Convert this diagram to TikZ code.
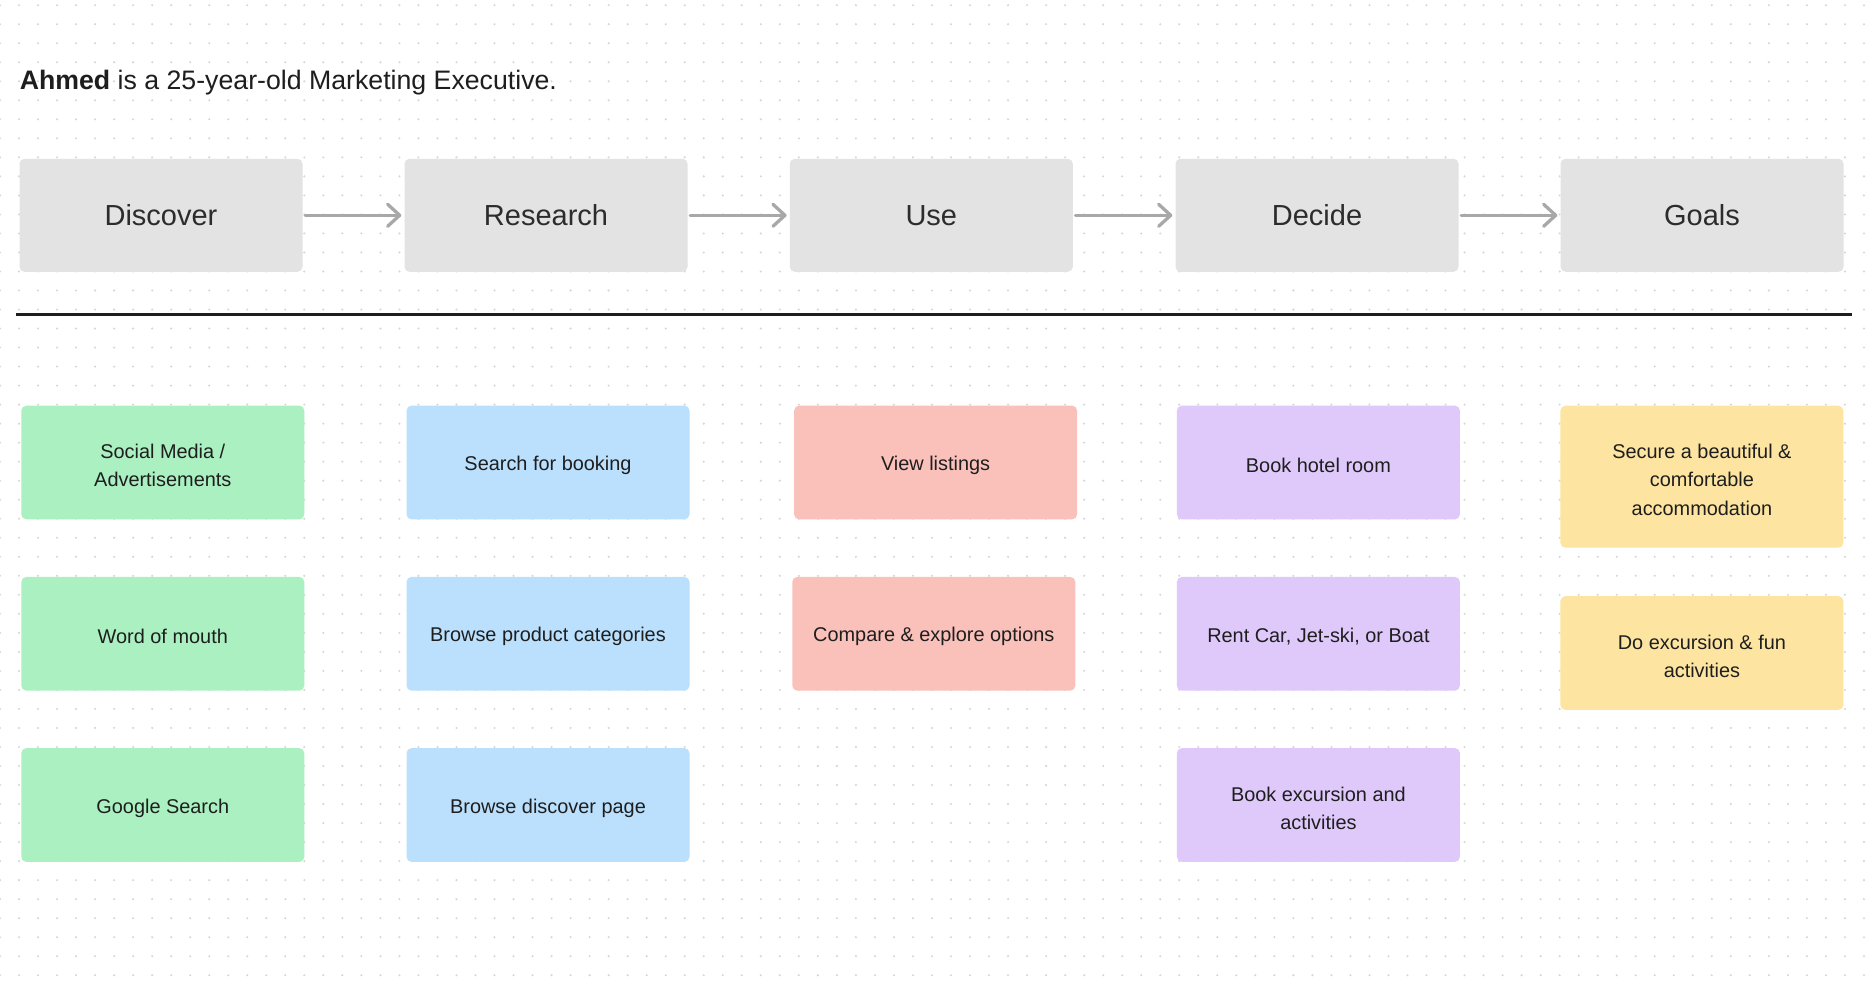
\documentclass[tikz,border=0pt]{standalone}
\usepackage{fontspec}
\setmainfont{Liberation Sans}
\usetikzlibrary{arrows.meta}
\definecolor{stagegray}{HTML}{E3E3E3}
\definecolor{headtext}{HTML}{2C2C2C}
\definecolor{bodytext}{HTML}{1E1E1E}
\definecolor{dotc}{HTML}{D6D6D6}
\definecolor{arrowc}{HTML}{A8A8A8}
\definecolor{greenc}{HTML}{ABF0C1}
\definecolor{bluec}{HTML}{BAE0FD}
\definecolor{redc}{HTML}{F9C1BA}
\definecolor{purplec}{HTML}{DFC9FB}
\definecolor{yellowc}{HTML}{FDE5A1}
\newcommand\padtop{\rule{0pt}{20.5pt}}
\tikzset{
  stagebox/.style={fill=stagegray, rounded corners=5pt, minimum width=283pt, minimum height=113pt,
    inner sep=0pt, font=\fontsize{29}{34}\selectfont, text=headtext},
  itembox/.style={rounded corners=5pt, minimum width=283pt, minimum height=113.7pt,
    inner sep=0pt, align=center, font=\fontsize{19.9}{28.3}\selectfont, text=bodytext},
  flowarrow/.style={draw=arrowc, line width=3.3pt, line cap=round,
    -{Straight Barb[length=12pt,width=22pt,line cap=round,line join=round]},
    shorten <=2.5pt, shorten >=3pt},
  sepline/.style={draw=bodytext, line width=3.5pt}
}
\begin{document}
\begin{tikzpicture}[x=1pt,y=-1pt]
\useasboundingbox (0,0) rectangle (1870,981);
\fill[white] (0,0) rectangle (1870,981);
% dot grid
\foreach \i in {0,...,98}{
  \foreach \j in {0,...,51}{
    \fill[dotc] ({\i*19.02},{5.2+\j*19.02}) circle (1.15);
  }
}
% title
\node[anchor=base west, inner sep=0pt, font=\fontsize{26.7}{32}\selectfont, text=bodytext] (title) at (19.6,89.3)
  {\textbf{Ahmed} is a 25-year-old Marketing Executive.};
% stages
\node[stagebox] (dis) at (161,215.3) {Discover};
\node[stagebox] (res) at (546,215.3) {Research};
\node[stagebox] (use) at (931.3,215.3) {Use};
\node[stagebox] (dec) at (1317,215.3) {Decide};
\node[stagebox] (goa) at (1702,215.3) {Goals};
\draw[flowarrow] (dis.east) -- (res.west);
\draw[flowarrow] (res.east) -- (use.west);
\draw[flowarrow] (use.east) -- (dec.west);
\draw[flowarrow] (dec.east) -- (goa.west);
% separator
\coordinate (sepL) at (16,314.5);
\coordinate (sepR) at (1852,314.5);
\draw[sepline] (sepL) -- (sepR);
% discover items
\node[itembox, fill=greenc] (g1) at (162.8,462.5) {\padtop Social Media /\\Advertisements};
\node[itembox, fill=greenc] (g2) at (162.8,633.8) {\padtop Word of mouth};
\node[itembox, fill=greenc] (g3) at (162.8,805) {\padtop Google Search};
% research items
\node[itembox, fill=bluec] (b1) at (548,462.5) {\padtop Search for booking};
\node[itembox, fill=bluec] (b2) at (548,633.8) {\padtop Browse product categories};
\node[itembox, fill=bluec] (b3) at (548,805) {\padtop Browse discover page};
% use items
\node[itembox, fill=redc] (r1) at (935.6,462.5) {\padtop View listings};
\node[itembox, fill=redc] (r2) at (933.8,633.8) {\padtop Compare \& explore options};
% decide items
\node[itembox, fill=purplec] (p1) at (1318.4,462.5) {\padtop Book hotel room};
\node[itembox, fill=purplec] (p2) at (1318.4,633.8) {\padtop Rent Car, Jet-ski, or Boat};
\node[itembox, fill=purplec] (p3) at (1318.4,805) {\padtop Book excursion and\\activities};
% goals items
\node[itembox, fill=yellowc, minimum height=142pt] (y1) at (1701.9,476.7) {\padtop Secure a beautiful \&\\comfortable\\accommodation};
\node[itembox, fill=yellowc] (y2) at (1701.9,653) {\padtop Do excursion \& fun\\activities};
\end{tikzpicture}
\end{document}
